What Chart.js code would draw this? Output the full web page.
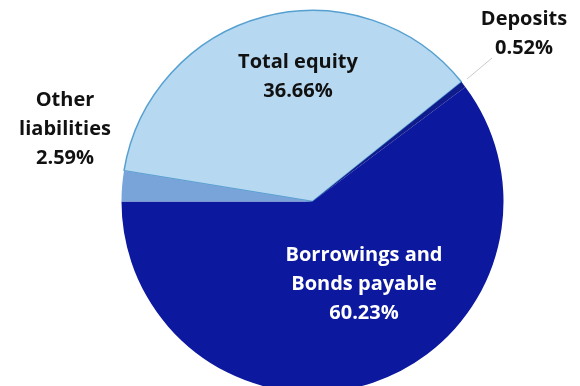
<!DOCTYPE html>
<html>
<head>
<meta charset="utf-8">
<script src="https://cdn.jsdelivr.net/npm/chart.js@4"></script>
<style>
  html, body { margin: 0; padding: 0; background: #fff; }
  canvas { display: block; }
</style>
</head>
<body>
<canvas id="pie-chart" width="580" height="386"></canvas>
<script>
  // balance sheet split, in percent
  let categories = ["Total equity", "Deposits", "Borrowings and Bonds payable", "Other liabilities"];
  let shares = [36.66, 0.52, 60.23, 2.59];
  let sliceColors = ["#b6d8f0", "#101c8c", "#0c189e", "#78a4da"];

  // text lines for each slice label and where they sit
  let labelLines = [
    ["Total equity", "36.66%"],
    ["Deposits", "0.52%"],
    ["Borrowings and", "Bonds payable", "60.23%"],
    ["Other", "liabilities", "2.59%"],
  ];
  let labelSpots = [[298, 62], [524, 19], [364, 255], [65, 100]];
  let labelColors = ["#111", "#111", "#fff", "#111"];

  let pieLabels = {
    id: "pieLabels",
    afterDraw(chart) {
      let ctx = chart.ctx;
      ctx.save();
      // thin leader line to the deposits label
      ctx.strokeStyle = "rgba(150,150,150,0.5)";
      ctx.lineWidth = 1;
      ctx.beginPath();
      ctx.moveTo(467, 79);
      ctx.lineTo(492, 58);
      ctx.stroke();

      ctx.font = "bold 20px 'Open Sans', sans-serif";
      ctx.textAlign = "center";
      ctx.textBaseline = "middle";
      labelLines.forEach((lines, i) => {
        ctx.fillStyle = labelColors[i];
        lines.forEach((line, j) => {
          ctx.fillText(line, labelSpots[i][0], labelSpots[i][1] + j * 29);
        });
      });
      ctx.restore();
    },
  };

  new Chart(document.getElementById("pie-chart"), {
    type: "pie",
    data: {
      labels: categories,
      datasets: [
        {
          data: shares,
          backgroundColor: sliceColors,
          borderColor: ["#55a0d0", "#101c8c", "#0c189e", "#78a4da"],
          borderWidth: [1.5, 0, 0, 0],
          radius: 191,
        },
      ],
    },
    options: {
      responsive: false,
      animation: false,
      rotation: -80.7,
      layout: { padding: { left: 45, right: 0, top: 17, bottom: 0 } },
      plugins: {
        legend: { display: false },
        tooltip: { enabled: false },
      },
    },
    plugins: [pieLabels],
  });
</script>
</body>
</html>
